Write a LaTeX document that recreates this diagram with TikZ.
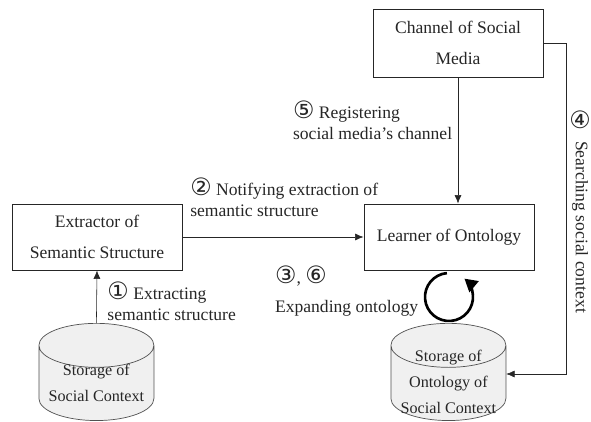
\documentclass[tikz,border=0pt]{standalone}
\usepackage{fontspec}
\setmainfont{Liberation Serif}
\newfontfamily\circfont{DejaVu Sans}
\newcommand{\cnum}[1]{{\circfont\fontsize{17}{15}\selectfont #1}}
\usepackage{tikz}
\usetikzlibrary{positioning,arrows.meta,shapes.geometric}
\definecolor{storegray}{HTML}{F0F0F0}
\definecolor{inkgray}{HTML}{262626}
\tikzset{basic/.style={draw=inkgray,line width=0.7pt,fill=white,text=inkgray,align=center,minimum width=4.25cm,minimum height=1.65cm,font=\fontsize{12.5}{22}\selectfont}}
\tikzset{store/.style={shape=cylinder,anchor=north,draw=inkgray!80,line width=0.5pt,fill=storegray,shape border rotate=90,aspect=0.55,minimum width=2.875cm,minimum height=2.43cm,inner sep=0pt}}
\tikzset{storetext/.style={text=inkgray,align=center,font=\fontsize{11.5}{19}\selectfont}}
\tikzset{note/.style={text=inkgray,anchor=west,align=left,inner sep=0pt,font=\fontsize{12.5}{15}\selectfont}}

\begin{document}
\begin{tikzpicture}[>={Latex[length=6pt,width=5pt]}]
	\useasboundingbox (0,0) rectangle (14.775,10.525);

	\node[basic](extractor) at (2.425,4.6){Extractor of\\Semantic Structure};
	\node[basic](learner) at (11.225,4.6){Learner of Ontology};
	\node[basic,minimum height=1.7cm](channel) at (11.45,9.45){Channel of Social\\Media};

	\node[store](context) at (2.41,2.45){\hspace*{2cm}};
	\node[store](ontology) at (11.21,2.45){\hspace*{2cm}};
	\node[storetext](contexttext) at (2.41,0.95){Storage of\\Social Context};
	\node[storetext,font=\fontsize{11.5}{18.5}\selectfont](ontologytext) at (11.21,0.97){Storage of\\Ontology of\\Social Context};

	\node[note](step1) at (2.68,3.0){\cnum{①} Extracting\\semantic structure};
	\node[note](step2) at (4.75,5.6){\cnum{②} Notifying extraction of\\semantic structure};
	\node[note](step36) at (6.87,3.25){\cnum{③}, \cnum{⑥}\\[6pt]Expanding ontology};
	\node[note](step5) at (7.32,7.52){\cnum{⑤} Registering\\social media's channel};
	\node[text=inkgray,inner sep=0pt](num4) at (14.5,7.52){\cnum{④}};
	\node[text=inkgray,rotate=-90,inner sep=0pt,font=\fontsize{12.5}{15}\selectfont](step4) at (14.5,4.85){Searching social context};

	\coordinate (loopc) at (11.225,3.1);
	\coordinate (turn) at (14.15,1.175);

	\draw[->,draw=inkgray] (context.north) -- (extractor.south);
	\draw[->,draw=inkgray] (extractor) -- (learner);
	\draw[->,draw=inkgray] (channel.south) -- (channel.south |- learner.north);
	\draw[->,draw=inkgray] (channel.east) -| (turn) -- (turn -| ontology.east);
	\draw[-{Triangle[length=9pt,width=10pt]},line width=1.9pt,black] ([shift={(95:0.6)}]loopc) arc (95:410:0.6);
\end{tikzpicture}
\end{document}
